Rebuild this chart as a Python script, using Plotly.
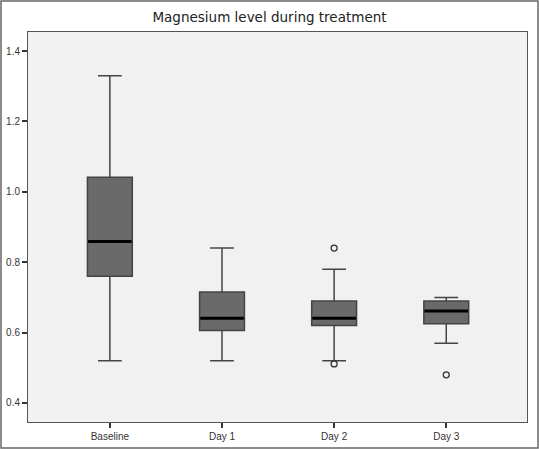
import plotly.graph_objects as go

categories = ["Baseline", "Day 1", "Day 2", "Day 3"]
lower_whisker = [0.52, 0.52, 0.52, 0.57]
q1_vals = [0.76, 0.606, 0.62, 0.625]
median_vals = [0.859, 0.641, 0.641, 0.661]
q3_vals = [1.041, 0.715, 0.69, 0.69]
upper_whisker = [1.33, 0.84, 0.78, 0.70]
outlier_cat = [2, 2, 3]
outlier_vals = [0.84, 0.511, 0.48]
y_ticks = [0.4, 0.6, 0.8, 1.0, 1.2, 1.4]

W, H = 539, 449
ml, mr, mt, mb = 28, 12, 32, 27
pw, ph = W - ml - mr, H - mt - mb

xs = list(range(len(categories)))
box_half = 0.2

fig = go.Figure()
fig.add_trace(go.Box(
    x=xs, q1=q1_vals, median=median_vals, q3=q3_vals,
    lowerfence=lower_whisker, upperfence=upper_whisker,
    width=2 * box_half, whiskerwidth=0.53,
    fillcolor="#6a6a6a", line=dict(color="#444444", width=1.5),
    boxpoints=False, showlegend=False, hoverinfo="skip",
))
for i, m in zip(xs, median_vals):
    fig.add_trace(go.Scatter(
        x=[i - box_half * 0.97, i + box_half * 0.97], y=[m, m], mode="lines",
        line=dict(color="#000000", width=3), showlegend=False, hoverinfo="skip",
    ))
fig.add_trace(go.Scatter(
    x=outlier_cat, y=outlier_vals, mode="markers",
    marker=dict(symbol="circle-open", size=6, color="#333333", line=dict(width=1.3)),
    showlegend=False, hoverinfo="skip",
))

fig.add_shape(type="rect", xref="paper", yref="paper",
              x0=-(ml - 1) / pw, x1=1 + (mr - 1) / pw,
              y0=-(mb - 1) / ph, y1=1 + (mt - 1) / ph,
              line=dict(color="#666666", width=1.5), layer="below")

fig.update_layout(
    width=W, height=H,
    margin=dict(l=ml, r=mr, t=mt, b=mb, autoexpand=False),
    paper_bgcolor="white", plot_bgcolor="#f1f1f1",
    font=dict(family="Liberation Sans, Arial, sans-serif", size=10, color="#333333"),
    title=dict(text="Magnesium level during treatment", x=0.5, xref="container",
               xanchor="center", y=1 - 17 / H, yanchor="middle",
               font=dict(family="DejaVu Sans, sans-serif", size=13.5, color="#222222"),
               automargin=False),
)
fig.update_xaxes(
    range=[-0.73, 3.72], tickvals=xs, ticktext=categories, automargin=False,
    showgrid=False, zeroline=False, showline=True, mirror=True,
    linecolor="#555555", linewidth=1, ticks="outside", ticklen=5,
    tickcolor="#333333", tickwidth=1.5,
)
fig.update_yaxes(
    range=[0.346, 1.454], tickvals=y_ticks, ticktext=[f"{v:.1f}" for v in y_ticks],
    automargin=False,
    showgrid=False, zeroline=False, showline=True, mirror=True,
    linecolor="#555555", linewidth=1, ticks="outside", ticklen=5,
    tickcolor="#333333", tickwidth=1.5,
)

fig.write_html("out.html", config={"displayModeBar": False},
               post_script="document.body.style.margin='0';document.body.style.padding='0';document.body.style.overflow='hidden';")
